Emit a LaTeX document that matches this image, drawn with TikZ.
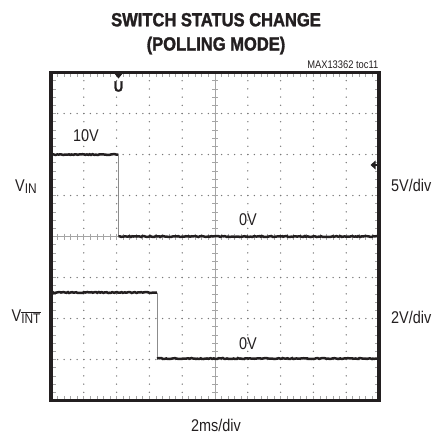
\documentclass[tikz,border=0pt]{standalone}
\usepackage{fontspec}
\setmainfont{Liberation Sans}[FakeStretch=0.85]
\newfontfamily\titlefont{Liberation Sans}[FakeStretch=0.87,FakeBold=1.6]
\usetikzlibrary{decorations.pathmorphing}
\definecolor{ink}{RGB}{35,31,32}
\definecolor{gridc}{RGB}{120,120,120}
\definecolor{axisc}{RGB}{165,165,165}
\tikzset{
  lbl/.style={inner sep=0pt, text=ink, font=\fontsize{17}{18}\selectfont},
  ttl/.style={inner sep=0pt, text=ink, font=\titlefont\bfseries\fontsize{19}{20}\selectfont, anchor=base},
  trace/.style={line width=2.5pt, ink, decorate, decoration={random steps, segment length=1.5pt, amplitude=0.5pt}},
  edge/.style={line width=1pt, black!45},
  frame/.style={line width=3.4pt, ink},
  gdot/.style={gridc},
  axis/.style={line width=1pt, axisc},
  tick/.style={line width=0.8pt, axisc},
}
\begin{document}
\begin{tikzpicture}[x=1pt,y=-1pt]
\useasboundingbox (0,0) rectangle (433,434);
% title
\node[ttl] (t1) at (216,26.3) {SWITCH STATUS CHANGE};
\node[ttl] (t2) at (216,50.5) {(POLLING MODE)};
\node[inner sep=0pt, text=ink, anchor=base east, font=\fontsize{11}{11}\selectfont] (toc) at (378.5,68) {MAX13362 toc11};
% grid dots
\foreach \i in {1,2,3,4,6,7,8,9}{
  \foreach \j in {1,...,39}{
    \fill[gdot] ({51+\i*32.8},{72.5+\j*8.2}) circle[radius=0.75];
  }
}
\foreach \k in {1,2,3,5,6,7}{
  \foreach \j in {1,...,49}{
    \fill[gdot] ({51+\j*6.56},{72.5+\k*41}) circle[radius=0.75];
  }
}
% center axes
\draw[axis] (215,72.5) -- (215,400.5);
\draw[axis] (51,236.5) -- (379,236.5);
\foreach \j in {1,...,39}{
  \draw[tick] ({212},{72.5+\j*8.2}) -- ({218},{72.5+\j*8.2});
}
\foreach \j in {1,...,49}{
  \draw[tick] ({51+\j*6.56},233.5) -- ({51+\j*6.56},239.5);
}
% frame edge ticks
\foreach \j in {1,...,49}{
  \draw[tick] ({51+\j*6.56},72.5) -- ({51+\j*6.56},77);
  \draw[tick] ({51+\j*6.56},400.5) -- ({51+\j*6.56},396);
}
\foreach \j in {1,...,39}{
  \draw[tick] (51,{72.5+\j*8.2}) -- (55.5,{72.5+\j*8.2});
  \draw[tick] (379,{72.5+\j*8.2}) -- (374.5,{72.5+\j*8.2});
}
% traces
\coordinate (a0) at (51,154.5);
\coordinate (a1) at (118.5,154.5);
\coordinate (a2) at (118.5,236.5);
\coordinate (a3) at (378,236.5);
\draw[trace] (a0) -- (a1);
\draw[edge] (a1) -- (a2);
\draw[trace] (a2) -- (a3);
\coordinate (b0) at (51,292.5);
\coordinate (b1) at (157,292.5);
\coordinate (b2) at (157,358.5);
\coordinate (b3) at (378,358.5);
\draw[trace] (b0) -- (b1);
\draw[edge] (b1) -- (b2);
\draw[trace] (b2) -- (b3);
% frame
\draw[frame] (51,72.5) rectangle (379,400.5);
% trigger markers
\fill[ink] (114,73) -- (123,73) -- (118.5,78.5) -- cycle;
\node[inner sep=0pt, text=ink, font=\titlefont\bfseries\fontsize{15}{15}\selectfont] (trg) at (118.5,86.5) {U};
\fill[ink] (370.5,165) -- (375.5,160.5) -- (375.5,169.5) -- cycle;
\draw[ink, line width=1.2pt] (375,165) -- (378,165);
% labels
\node[lbl, anchor=base] (l10) at (86,141) {10V};
\node[lbl, anchor=base] (l0a) at (248,225.5) {0V};
\node[lbl, anchor=base] (l0b) at (248,349) {0V};
\node[lbl, anchor=base west] (vin) at (15,191) {V\raisebox{-2.5pt}{\fontsize{14}{14}\selectfont IN}};
\node[lbl, anchor=base west] (vint) at (11.5,321) {V\raisebox{-2.5pt}{\fontsize{14}{14}\selectfont$\overline{\mbox{INT}}$}};
\node[lbl, anchor=base west] (s1) at (391,191) {5V/div};
\node[lbl, anchor=base west] (s2) at (391,323.5) {2V/div};
\node[lbl, anchor=base] (sx) at (216,431) {2ms/div};
\end{tikzpicture}
\end{document}
